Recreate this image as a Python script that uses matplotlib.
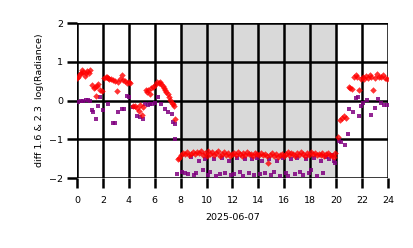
import matplotlib
matplotlib.use("Agg")
import matplotlib.pyplot as plt

# ---- data (hours of day, diff log radiance) ----
red_day_t = [0.0, 0.1, 0.2, 0.3, 0.4, 0.5, 0.6, 0.7, 0.8, 0.9, 1.0, 1.13, 1.3, 1.39, 1.47, 1.56, 1.64, 1.77, 1.9,
             2.1, 2.2, 2.3, 2.4, 2.5, 2.6, 2.75, 2.9, 3.06, 3.2, 3.35, 3.45, 3.55, 3.7, 3.85, 4.0, 4.1,
             4.3, 4.45, 4.6, 4.75, 4.9, 5.0, 5.1, 5.3, 5.37, 5.5, 5.6, 5.7, 5.85, 6.0, 6.15, 6.3, 6.4, 6.5,
             6.6, 6.7, 6.8, 6.9, 7.0, 7.1, 7.2, 7.3, 7.4, 7.5, 7.6, 7.77]
red_day_v = [0.58, 0.62, 0.68, 0.72, 0.78, 0.74, 0.64, 0.70, 0.76, 0.72, 0.78, 0.39, 0.32, 0.35, 0.13, 0.38, 0.44, 0.26, 0.24,
             0.58, 0.60, 0.60, 0.58, 0.56, 0.56, 0.52, 0.50, 0.24, 0.48, 0.55, 0.65, 0.52, 0.50, 0.45, 0.48, 0.46,
             -0.13, -0.15, -0.20, -0.28, -0.12, -0.36, -0.16, 0.26, 0.22, 0.28, 0.18, 0.32, 0.35, 0.40, 0.48, 0.45, 0.48, 0.42,
             0.38, 0.33, 0.28, 0.22, 0.16, 0.08, 0.02, -0.05, -0.10, -0.15, -0.47, -1.51]
red_night_t = [7.9, 8.05, 8.2, 8.35, 8.5, 8.65, 8.8, 8.95, 9.1, 9.25, 9.4, 9.55, 9.7, 9.85, 10.0, 10.15, 10.3, 10.45,
               10.6, 10.75, 10.9, 11.05, 11.2, 11.35, 11.5, 11.65, 11.8, 11.95, 12.1, 12.25, 12.4, 12.55, 12.7,
               12.85, 13.0, 13.15, 13.3, 13.45, 13.6, 13.75, 13.9, 14.05, 14.2, 14.35, 14.5, 14.65, 14.75, 14.9,
               15.05, 15.2, 15.35, 15.5, 15.65, 15.8, 15.95, 16.1, 16.25, 16.4, 16.55, 16.7, 16.85, 17.0, 17.15,
               17.3, 17.45, 17.6, 17.75, 17.9, 18.05, 18.2, 18.35, 18.5, 18.65, 18.8, 18.95, 19.1, 19.25, 19.4,
               19.55, 19.7, 19.85, 19.95]
red_night_v = [-1.48, -1.40, -1.36, -1.38, -1.33, -1.40, -1.37, -1.34, -1.39, -1.32, -1.36, -1.30, -1.40, -1.35,
               -1.42, -1.30, -1.38, -1.33, -1.40, -1.36, -1.31, -1.42, -1.37, -1.34, -1.40, -1.36, -1.43, -1.38,
               -1.35, -1.40, -1.33, -1.38, -1.42, -1.36, -1.40, -1.34, -1.39, -1.37, -1.42, -1.35, -1.38, -1.40,
               -1.36, -1.41, -1.38, -1.44, -1.60, -1.40, -1.36, -1.42, -1.38, -1.45, -1.40, -1.37, -1.43, -1.38,
               -1.33, -1.40, -1.35, -1.38, -1.42, -1.36, -1.40, -1.34, -1.39, -1.42, -1.36, -1.40, -1.33, -1.38,
               -1.36, -1.41, -1.37, -1.40, -1.35, -1.42, -1.38, -1.36, -1.40, -1.43, -1.45, -1.35]
red_eve_t = [20.14, 20.3, 20.45, 20.6, 20.75, 21.0, 21.1, 21.25, 21.4, 21.55, 21.65, 21.8, 21.95, 22.05, 22.15,
             22.3, 22.45, 22.6, 22.7, 22.85, 23.0, 23.15, 23.3, 23.45, 23.6, 23.75, 23.9]
red_eve_v = [-0.95, -0.50, -0.45, -0.40, -0.45, 0.36, 0.33, 0.30, 0.62, 0.66, 0.62, 0.27, 0.55, 0.60, 0.56,
             0.64, 0.58, 0.66, 0.62, 0.28, 0.58, 0.68, 0.62, 0.60, 0.66, 0.58, 0.56]

pur_day_t = [0.1, 0.3, 0.5, 0.7, 0.85, 1.0, 1.13, 1.26, 1.47, 1.65, 1.77, 2.03, 2.4, 2.8, 2.95, 3.2, 3.45, 3.6,
             3.83, 4.0, 4.35, 4.6, 4.86, 5.1, 5.25, 5.45, 5.6, 5.76, 6.0, 6.27, 6.5, 6.8, 7.05, 7.3, 7.43,
             7.56, 7.6, 7.74]
pur_day_v = [-0.04, -0.02, 0.00, 0.02, 0.02, -0.02, -0.24, -0.30, -0.47, -0.13, 0.09, -0.24, -0.09, -0.59,
             -0.59, -0.30, -0.22, -0.22, 0.13, 0.10, -0.17, -0.39, -0.43, -0.48, -0.09, -0.12, -0.09, -0.10,
             -0.05, 0.09, -0.09, -0.22, -0.30, -0.35, -0.56, -0.60, -1.00, -1.90]
pur_night_t = [8.1, 8.3, 8.55, 8.8, 9.0, 9.2, 9.45, 9.7, 9.9, 10.1, 10.3, 10.55, 10.75, 11.0, 11.2, 11.45, 11.7,
               11.9, 12.1, 12.35, 12.6, 12.8, 13.0, 13.25, 13.5, 13.7, 13.9, 14.1, 14.3, 14.55, 14.8, 15.0,
               15.2, 15.45, 15.7, 15.9, 16.1, 16.3, 16.55, 16.8, 17.0, 17.2, 17.45, 17.7, 17.9, 18.1, 18.3,
               18.55, 18.8, 19.0, 19.2, 19.45, 19.65, 19.85, 19.95]
pur_night_v = [-1.85, -1.88, -1.90, -1.45, -1.92, -1.88, -1.55, -1.80, -1.50, -1.92, -1.85, -1.50, -1.95,
               -1.90, -1.48, -1.88, -1.55, -1.92, -1.90, -1.48, -1.85, -1.95, -1.50, -1.88, -1.52, -1.93, -1.48,
               -1.90, -1.55, -1.88, -1.50, -1.92, -1.85, -1.55, -1.95, -1.48, -1.88, -1.95, -1.50, -1.90,
               -1.48, -1.85, -1.92, -1.52, -1.88, -1.80, -1.48, -1.95, -1.55, -1.88, -1.45, -1.50, -1.40,
               -1.55, -1.60]
pur_eve_t = [20.2, 20.4, 20.7, 20.9, 21.0, 21.3, 21.5, 21.7, 21.75, 21.9, 22.1, 22.4, 22.7, 23.0, 23.2,
             23.45, 23.7, 23.9]
pur_eve_v = [-1.05, -1.08, -1.14, -0.85, -0.21, -0.29, 0.07, 0.08, -0.39, -0.15, -0.07, 0.02, -0.36, -0.20,
             0.03, -0.07, -0.12, -0.12]

night_span = [8.05, 20.0]
xticks = list(range(0, 25, 2))
yticks = [-2, -1, 0, 1, 2]

red_t = red_day_t + red_night_t + red_eve_t
red_v = red_day_v + red_night_v + red_eve_v
pur_t = pur_day_t + pur_night_t + pur_eve_t
pur_v = pur_day_v + pur_night_v + pur_eve_v

fig = plt.figure(figsize=(4.14, 2.48), dpi=100)
ax = fig.add_axes([0.186, 0.282, 0.751, 0.625])
ax.axvspan(night_span[0], night_span[1], facecolor="#d9d9d9", edgecolor="#c0c0c0", lw=1, zorder=0)
ax.scatter(pur_t, pur_v, marker="s", s=8, color="purple", alpha=0.85, lw=0, zorder=3)
ax.scatter(red_t, red_v, marker="D", s=11, color="red", alpha=0.8, lw=0, zorder=4)

ax.set_xlim(0, 24)
ax.set_ylim(-2, 2)
ax.set_xticks(xticks)
ax.set_yticks(yticks)
ax.grid(True, color="black", lw=1.8, zorder=2)
ax.set_axisbelow(False)
for s in ax.spines.values():
    s.set_visible(False)
ax.tick_params(axis="both", length=7, width=1.8, color="black", labelsize=6.8)
ax.tick_params(axis="x", pad=6)
ax.tick_params(axis="y", pad=3)
ax.set_xlabel("2025-06-07", fontsize=6.8, labelpad=6)
ax.set_ylabel("diff 1.6 & 2.3  log(Radiance)", fontsize=6.8, labelpad=4)

fig.savefig("out.png", dpi=100)
